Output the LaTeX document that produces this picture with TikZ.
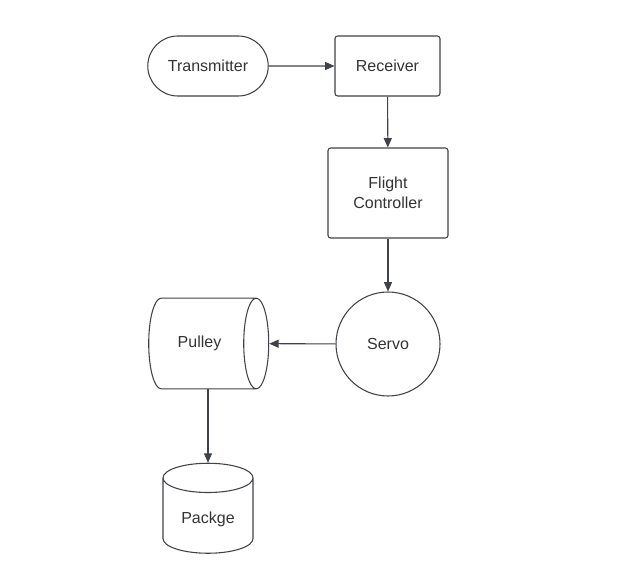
\documentclass[tikz,border=0pt]{standalone}
\usepackage{fontspec}
\setmainfont{Liberation Sans}
\usetikzlibrary{shapes.geometric,shapes.misc,arrows.meta,positioning}
\definecolor{linegray}{HTML}{3F4247}
\definecolor{textgray}{HTML}{333333}

\tikzset{
    base/.style={draw=linegray, line width=0.8pt, text=textgray, align=center,
        font=\fontsize{12}{15}\selectfont},
    term/.style={base, rounded rectangle, minimum width=97pt, minimum height=45pt},
    block/.style={base, rectangle, rounded corners=2pt},
    disc/.style={base, circle, minimum size=78pt},
    drum/.style={base, cylinder},
    flow/.style={draw=linegray, line width=0.8pt, -{Triangle[length=7pt,width=6pt]}}
}

\begin{document}
\begin{tikzpicture}[x=0.75pt,y=-0.75pt]
    \useasboundingbox (0,0) rectangle (630,573);

    % Nodes
    \node[term] (tx) at (208,66) {Transmitter};
    \node[block, minimum width=78.75pt, minimum height=45pt] (rx) at (387.5,66) {Receiver};
    \node[block, minimum width=90pt, minimum height=67.5pt] (fc) at (388,193) {Flight\\Controller};
    \node[disc] (servo) at (388,344) {Servo};
    \node[drum, aspect=1.05, minimum width=68pt, minimum height=90pt] (pulley) at (199.5,343.5) {Pulley};
    \node[drum, aspect=0.47, shape border rotate=90, minimum width=67.5pt, minimum height=67.5pt] (pkg) at (208,519) {Packge};

    % Connections
    \draw[flow] (tx) -- (rx);
    \draw[flow] (rx) -- (fc);
    \draw[flow] (fc) -- (servo);
    \draw[flow] (servo) -- (pulley);
    \draw[flow] (pulley.south -| pkg.north) -- (pkg.north);
\end{tikzpicture}
\end{document}
